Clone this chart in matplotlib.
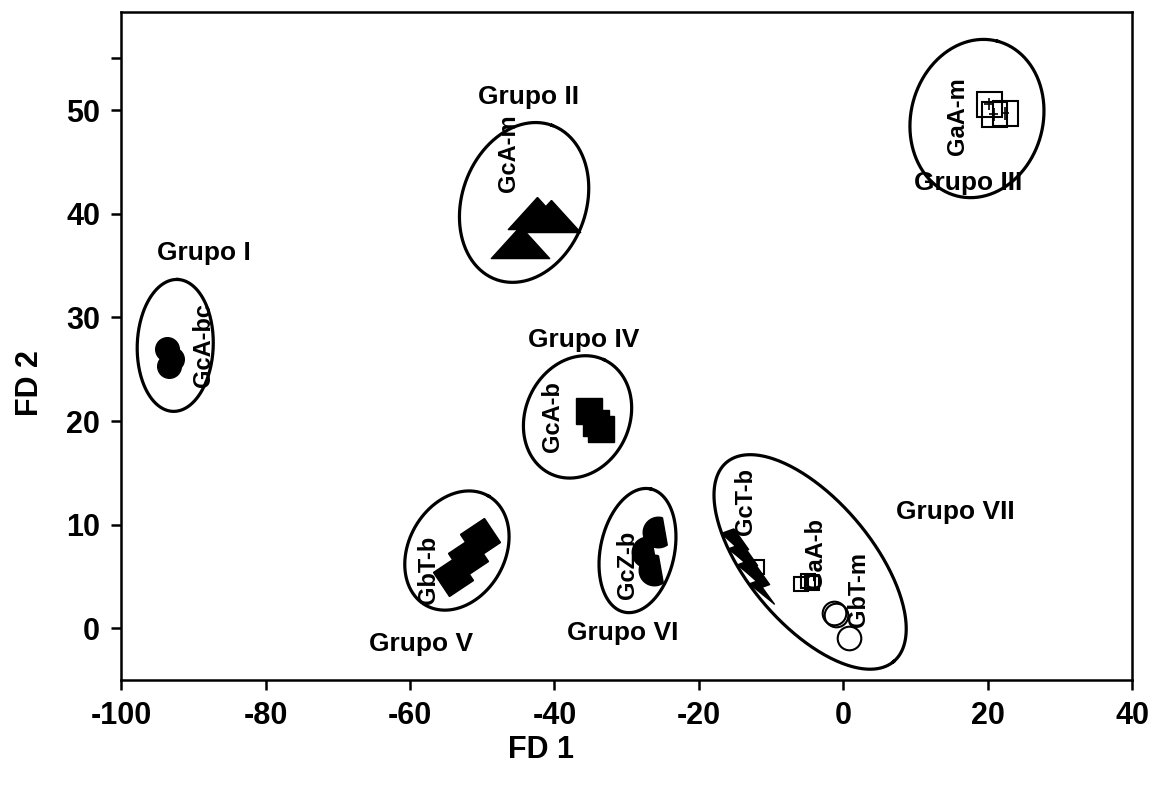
import numpy as np
import matplotlib
matplotlib.use("Agg")
import matplotlib.pyplot as plt
from matplotlib.markers import MarkerStyle
from matplotlib.transforms import Affine2D

plt.rcParams['font.family'] = ['Liberation Sans', 'DejaVu Sans']
plt.rcParams['font.weight'] = 'bold'

# --- data (FD 1, FD 2) ---
gca_bc_x = [-93.6, -93.0, -93.4]
gca_bc_y = [27.0, 26.0, 25.3]

gca_m_x = [-42.4, -40.5, -44.7]
gca_m_y = [40.1, 39.8, 37.3]

gaa_m_x = [20.1, 20.8, 22.4]
gaa_m_y = [50.6, 49.6, 49.7]

gca_b_x = [-35.2, -34.2, -33.5]
gca_b_y = [21.0, 19.8, 19.2]

gbt_b_x = [-50.3, -51.9, -54.0]
gbt_b_y = [8.7, 6.9, 5.0]

gcz_b_x = [-25.6, -27.2, -26.2]
gcz_b_y = [9.3, 7.4, 5.6]

gct_b_x = [-14.5, -13.2, -11.6]
gct_b_y = [7.6, 6.0, 4.2]

gaa_b_x = [-11.9, -5.8, -4.9, -4.3]
gaa_b_y = [5.9, 4.3, 4.6, 4.4]

gbt_m_x = [-1.3, -1.0, 0.8]
gbt_m_y = [1.5, 1.3, -0.9]

x_ticks = [-100, -80, -60, -40, -20, 0, 20, 40]
y_ticks = [0, 10, 20, 30, 40, 50]

# custom marker shapes
tri = [(0, 0.55), (-1, -0.55), (1, -0.55), (0, 0.55)]
cut_circle = [(np.cos(t), np.sin(t)) for t in np.radians(np.linspace(75, 305, 40))]
cut_circle.append(cut_circle[0])
bolt_pts = [(0.05, 0.5), (-0.25, 0.5), (-0.05, 0.12), (-0.22, 0.12), (0.15, -0.5),
            (0.02, -0.05), (0.2, -0.05), (0.05, 0.5)]
bolt = MarkerStyle(bolt_pts, transform=Affine2D().rotate_deg(20))
tilted_sq = MarkerStyle('s', transform=Affine2D().rotate_deg(35))

fig = plt.figure(figsize=(11.53, 7.88), dpi=100)
ax = fig.add_axes([0.105, 0.137, 0.877, 0.848])

ax.set_xlim(-100, 40)
ax.set_ylim(-5, 59.5)

ax.plot(gca_bc_x, gca_bc_y, 'o', color='black', ms=17, ls='none')
ax.plot(gca_m_x, gca_m_y, marker=tri, color='black', ms=42, ls='none')
ax.plot(gaa_m_x, gaa_m_y, 's', mfc='none', mec='black', mew=1.5, ms=18, ls='none')
ax.errorbar(gaa_m_x, gaa_m_y, xerr=0.6, yerr=0.6, fmt='none', ecolor='black', elinewidth=1.2)
ax.plot(gca_b_x, gca_b_y, 's', color='black', ms=19, ls='none')
ax.plot(gbt_b_x, gbt_b_y, marker=tilted_sq, color='black', ms=21, ls='none')
ax.plot(gcz_b_x, gcz_b_y, marker=cut_circle, color='black', ms=22, ls='none')
ax.plot(gct_b_x, gct_b_y, marker=bolt, color='black', ms=32, ls='none')
ax.plot(gaa_b_x, gaa_b_y, 's', mfc='none', mec='black', mew=1.5, ms=10, ls='none')
ax.plot(gbt_m_x, gbt_m_y, 'o', mfc='none', mec='black', mew=1.5, ms=17, ls='none')

fig.canvas.draw()


def ring(cx, cy, a, b, ang):
    # ellipse with semi-axes given in pixels, centred on a data point
    px, py = ax.transData.transform((cx, cy))
    t = np.linspace(0, 2 * np.pi, 300)
    r = np.radians(ang)
    ex = px + a * np.cos(t) * np.cos(r) - b * np.sin(t) * np.sin(r)
    ey = py + a * np.cos(t) * np.sin(r) + b * np.sin(t) * np.cos(r)
    pts = ax.transData.inverted().transform(np.column_stack([ex, ey]))
    ax.plot(pts[:, 0], pts[:, 1], color='black', lw=2.3)


ring(-92.5, 27.3, 66, 38, 88)
ring(-44.2, 41.1, 82, 62, 70)
ring(18.5, 49.2, 80, 66, 75)
ring(-36.8, 20.4, 63, 52, 65)
ring(-53.5, 7.5, 63, 48, 60)
ring(-28.5, 7.5, 63, 37, 78)
ring(-4.6, 6.4, 130, 62, -50)

gkw = dict(fontsize=19, fontweight='bold', ha='center', va='center')
ax.text(-88.5, 36.2, 'Grupo I', **gkw)
ax.text(-43.6, 51.3, 'Grupo II', **gkw)
ax.text(17.3, 43.0, 'Grupo III', **gkw)
ax.text(-35.9, 27.8, 'Grupo IV', **gkw)
ax.text(-58.5, -1.5, 'Grupo V', **gkw)
ax.text(-30.5, -0.5, 'Grupo VI', **gkw)
ax.text(15.5, 11.2, 'Grupo VII', **gkw)

tkw = dict(fontsize=17, fontweight='bold', ha='center', va='center', rotation=90)
ax.text(-88.6, 27.3, 'GcA-bc', **tkw)
ax.text(-46.4, 45.9, 'GcA-m', **tkw)
ax.text(15.8, 49.4, 'GaA-m', **tkw)
ax.text(-40.3, 20.4, 'GcA-b', **tkw)
ax.text(-57.5, 5.6, 'GbT-b', **tkw)
ax.text(-29.9, 6.1, 'GcZ-b', **tkw)
ax.text(-13.6, 12.2, 'GcT-b', **tkw)
ax.text(-3.9, 7.2, 'GaA-b', **tkw)
ax.text(2.1, 3.7, 'GbT-m', **tkw)

ax.set_xticks(x_ticks)
ax.set_xticklabels([str(v) for v in x_ticks])
ax.set_yticks(y_ticks + [55])
ax.set_yticklabels([str(v) for v in y_ticks] + [''])
ax.tick_params(direction='out', length=7, width=1.8, labelsize=22, pad=8)
for s in ax.spines.values():
    s.set_linewidth(1.8)

ax.set_xlabel('FD 1', fontsize=22, fontweight='bold')
ax.set_ylabel('FD 2', fontsize=22, fontweight='bold')
ax.xaxis.set_label_coords(0.415, -0.082)
ax.yaxis.set_label_coords(-0.075, 0.445)

fig.savefig('out.png', dpi=100)
